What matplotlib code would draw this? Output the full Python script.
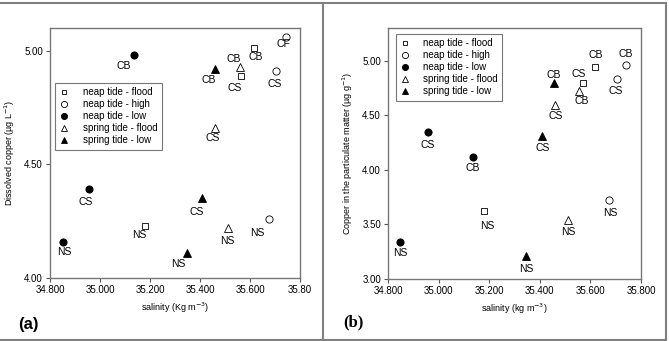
import matplotlib.pyplot as plt
from matplotlib.lines import Line2D

plt.rcParams['font.family'] = ['Liberation Sans', 'DejaVu Sans']

series = ['neap tide - flood', 'neap tide - high', 'neap tide - low',
          'spring tide - flood', 'spring tide - low']
markers = ['s', 'o', 'o', '^', '^']
filled = [False, False, True, False, True]

# (a) dissolved copper
sal_a = [[35.18, 35.565, 35.615], [35.675, 35.705, 35.745], [34.85, 34.957, 35.135],
         [35.512, 35.46, 35.56], [35.347, 35.408, 35.46]]
cu_a = [[4.23, 4.89, 5.01], [4.26, 4.91, 5.06], [4.16, 4.39, 4.98],
        [4.22, 4.66, 4.93], [4.11, 4.35, 4.92]]
lab_a = [['NS', 'CS', 'CB'], ['NS', 'CS', 'CF'], ['NS', 'CS', 'CB'],
         ['NS', 'CS', 'CB'], ['NS', 'CS', 'CB']]
# label offsets in pixels (dx right, dy down)
off_a = [[(-6, 9), (-7, 12), (2, 9)], [(-11, 14), (-2, 13), (-3, 7)],
         [(2, 10), (-4, 13), (-10, 11)], [(-1, 13), (-2, 10), (-6, -8)],
         [(-8, 11), (-5, 14), (-6, 11)]]

# (b) particulate copper
sal_b = [[35.18, 35.57, 35.62], [35.675, 35.705, 35.74], [34.847, 34.958, 35.136],
         [35.51, 35.46, 35.555], [35.345, 35.41, 35.456]]
cu_b = [[3.62, 4.80, 4.94], [3.72, 4.83, 4.96], [3.34, 4.35, 4.12],
        [3.54, 4.59, 4.72], [3.21, 4.31, 4.80]]
lab_b = [['NS', 'CS', 'CB'], ['NS', 'CS', 'CB'], ['NS', 'CS', 'CB'],
         ['NS', 'CS', 'CB'], ['NS', 'CS', 'CB']]
off_b = [[(3, 15), (-4, -9), (0, -12)], [(1, 13), (-1, 12), (0, -11)],
         [(0, 11), (0, 13), (0, 11)], [(1, 12), (1, 11), (3, 10)],
         [(0, 13), (0, 12), (0, -8)]]

xticks = [34.8, 35.0, 35.2, 35.4, 35.6, 35.8]
xlabels_a = ['34.800', '35.000', '35.200', '35.400', '35.600', '35.80']
xlabels_b = ['34.800', '35.000', '35.200', '35.400', '35.600', '35.800']
yticks_a = [4.0, 4.5, 5.0]
yticks_b = [3.0, 3.5, 4.0, 4.5, 5.0]

W, H = 669, 341
fig = plt.figure(figsize=(W / 100, H / 100), dpi=100)
ax_a = fig.add_axes([50 / W, 1 - 278 / H, 250 / W, 250 / H])
ax_b = fig.add_axes([388 / W, 1 - 279 / H, 253 / W, 251 / H])

msize = {'s': 4.2, 'o': 5.2, '^': 5.2}


def draw(ax, sal, cu, lab, off, ylim, yticks, xlabels, xlabel, ylabel, legpos):
    for i, name in enumerate(series):
        fc = 'black' if filled[i] else 'white'
        ax.plot(sal[i], cu[i], linestyle='none', marker=markers[i], ms=msize[markers[i]],
                mfc=fc, mec='black', mew=0.6, label=name)
        for x, y, t, (dx, dy) in zip(sal[i], cu[i], lab[i], off[i]):
            ax.annotate(t, (x, y), xytext=(dx, -dy), textcoords='offset pixels',
                        ha='center', va='center', fontsize=7.5)
    ax.set_xlim(34.8, 35.8)
    ax.set_ylim(*ylim)
    ax.set_xticks(xticks)
    ax.set_xticklabels(xlabels)
    ax.set_yticks(yticks)
    ax.set_yticklabels(['%.2f' % v for v in yticks])
    ax.tick_params(labelsize=7, length=3, width=0.8, color='#555555', pad=2)
    for s in ax.spines.values():
        s.set_color('#777777')
        s.set_linewidth(1.0)
    ax.set_xlabel(xlabel, fontsize=6.5, labelpad=4)
    ax.set_ylabel(ylabel, fontsize=6.5, labelpad=5)
    leg = ax.legend(loc='upper left', bbox_to_anchor=legpos, fontsize=7,
                    frameon=True, fancybox=False, edgecolor='#555555',
                    handlelength=1.0, handletextpad=1.4, labelspacing=0.2,
                    borderpad=0.45, borderaxespad=0, markerscale=0.85)
    leg.get_frame().set_linewidth(0.8)


draw(ax_a, sal_a, cu_a, lab_a, off_a, (4.0, 5.1), yticks_a, xlabels_a,
     'salinity (Kg m$^{-3}$)', 'Dissolved copper (\u00b5g L$^{-1}$)', (0.02, 0.78))
draw(ax_b, sal_b, cu_b, lab_b, off_b, (3.0, 5.3), yticks_b, xlabels_b,
     'salinity (kg m$^{-3}$)', 'Copper in the particulate matter (\u00b5g g$^{-1}$)',
     (0.03, 0.976))

fig.text(28 / W, 1 - 324 / H, '(a)', fontsize=12, fontweight='bold',
         ha='center', va='center')
fig.text(353 / W, 1 - 322 / H, '(b)', fontsize=12, fontweight='bold',
         family='Liberation Serif', ha='center', va='center')

# panel frames
lc = '#808080'
for xs, ys in [([0, 666], [3, 3]), ([666, 666], [3, 340]), ([0, 666], [340, 340]),
               ([323, 323], [3, 340])]:
    fig.add_artist(Line2D([x / W for x in xs], [1 - y / H for y in ys],
                          color=lc, lw=1.5, transform=fig.transFigure))

fig.savefig('out.png', dpi=100)
